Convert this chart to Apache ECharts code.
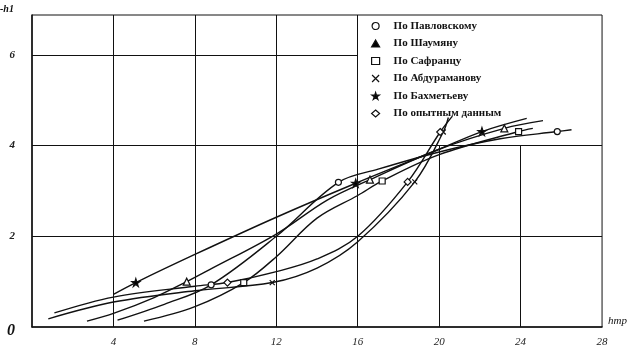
<!DOCTYPE html>
<html><head><meta charset="utf-8">
<script src="https://cdn.jsdelivr.net/npm/echarts@6/dist/echarts.min.js"></script>
<style>html,body{margin:0;padding:0;background:#fff}#c{width:630px;height:348px}</style>
</head><body><div id="c"></div>
<script>
// ---- data ----
const seriesNames = ['По Павловскому','По Шаумяну','По Сафранцу','По Абдураманову','По Бахметьеву','По опытным данным'];
const xTicks = [0,4,8,12,16,20,24,28];
const yTicks = [0,2,4,6];
const fullGridX = [4,8,12,16];
const shortGridX = [20,24];      // drawn from 0 up to y = 4
const fullGridY = [2,4];
const shortGridY = [6];          // drawn from x = 0 to x = 16

const pavlovskyCurve = [[4.2,0.15],[6.5,0.5],[8.8,0.93],[12,2.0],[15.05,3.19],[17,3.48],[20,3.86],[23,4.15],[25.8,4.31],[26.5,4.35]];
const pavlovskyMarks = [[8.8,0.93],[15.05,3.19],[25.8,4.31]];
const shaumyanCurve = [[2.7,0.13],[4,0.3],[6,0.65],[7.6,1.0],[8.7,1.26],[12,2.05],[14.5,2.8],[16.6,3.25],[20,3.92],[23.2,4.38],[25.1,4.55]];
const shaumyanMarks = [[7.6,1.0],[16.6,3.25],[23.2,4.38]];
const safrantsCurve = [[5.5,0.13],[8,0.45],[10.4,0.98],[12,1.55],[14,2.4],[16,2.9],[17.2,3.22],[20,3.8],[23.9,4.31],[24.6,4.38]];
const safrantsMarks = [[10.4,0.98],[17.2,3.22],[23.9,4.31]];
const abduramanovCurve = [[0.8,0.18],[4,0.55],[8,0.8],[11.8,0.98],[14,1.3],[16,1.88],[18.8,3.2],[20.2,4.3],[20.45,4.62]];
const abduramanovMarks = [[11.8,0.98],[18.8,3.2],[20.2,4.3]];
const bakhmetevCurve = [[4.0,0.72],[5.1,0.98],[8,1.6],[12,2.42],[15.9,3.17],[20,3.92],[22.1,4.31],[24.3,4.6]];
const bakhmetevMarks = [[5.1,0.98],[15.9,3.17],[22.1,4.31]];
const experimentCurve = [[1.1,0.31],[4,0.66],[8,0.9],[9.6,0.98],[12,1.22],[14,1.5],[16,2.0],[18.45,3.2],[20.05,4.3],[20.65,4.65]];
const experimentMarks = [[9.6,0.98],[18.45,3.2],[20.05,4.3]];

// ---- chart ----
const X_MAX = 28, Y_MAX = 6.88;
const starPath = 'path://M5,0L6.2,3.6L10,3.6L6.9,5.8L8.1,9.5L5,7.2L1.9,9.5L3.1,5.8L0,3.6L3.8,3.6Z';
const crossPath = 'path://M0,0L10,10M10,0L0,10';
const curves = [pavlovskyCurve, shaumyanCurve, safrantsCurve, abduramanovCurve, bakhmetevCurve, experimentCurve];
const marks = [pavlovskyMarks, shaumyanMarks, safrantsMarks, abduramanovMarks, bakhmetevMarks, experimentMarks];
const symbols = ['circle','triangle','rect',crossPath,starPath,'diamond'];
const sizes = [6,7,6,5,8,7];
const fills = ['#fff','#fff','#fff','#000','#000','#fff'];
const legendFills = ['#fff','#000','#fff','#000','#000','#fff'];

const gridLines = [];
fullGridX.forEach(v => gridLines.push([{coord:[v,0]},{coord:[v,Y_MAX]}]));
shortGridX.forEach(v => gridLines.push([{coord:[v,0]},{coord:[v,4]}]));
fullGridY.forEach(v => gridLines.push([{coord:[0,v]},{coord:[X_MAX,v]}]));
shortGridY.forEach(v => gridLines.push([{coord:[0,v]},{coord:[16,v]}]));

const series = [{
  name:'grid', type:'line', data:[], silent:true,
  markLine:{silent:true, symbol:['none','none'], label:{show:false},
    lineStyle:{color:'#111', type:'solid', width:1}, animation:false, data:gridLines}
}];
seriesNames.forEach((n,i) => {
  series.push({name:n, type:'line', data:curves[i], smooth:0.35, symbol:'none',
    lineStyle:{color:'#111', width:1.4}, itemStyle:{color:'#111'}, z:3});
  series.push({name:n, type:'scatter', data:marks[i], symbol:symbols[i], symbolSize:sizes[i],
    itemStyle:{color:fills[i], borderColor:'#111', borderWidth:1.2, opacity:1}, z:4});
});

const chart = echarts.init(document.getElementById('c'));
chart.setOption({
  animation:false,
  backgroundColor:'#fff',
  grid:{left:32, right:27, top:15, bottom:21, show:true, borderColor:'#111', borderWidth:1, backgroundColor:'transparent'},
  legend:{
    orient:'vertical', left:366, top:15, itemWidth:8, itemHeight:7, itemGap:5.5,
    selectedMode:false,
    textStyle:{fontFamily:'Liberation Serif', fontWeight:'bold', fontSize:11, lineHeight:12, color:'#111', padding:[0,0,0,9]},
    data: seriesNames.map((n,i) => ({name:n, icon:symbols[i],
      itemStyle:{color:legendFills[i], borderColor:'#111', borderWidth:1.2}}))
  },
  xAxis:{type:'value', min:0, max:X_MAX, interval:4,
    name:'hтр', nameLocation:'end', nameGap:6,
    nameTextStyle:{fontFamily:'Liberation Serif', fontStyle:'italic', fontSize:11, color:'#111', verticalAlign:'bottom', padding:[0,0,0,0]},
    axisLine:{lineStyle:{color:'#111', width:1.5}}, axisTick:{show:false}, splitLine:{show:false},
    axisLabel:{margin:10, fontFamily:'Liberation Serif', fontStyle:'italic', fontSize:11, color:'#222',
      formatter: v => (xTicks.indexOf(v) > 0 ? String(v) : '')}
  },
  yAxis:{type:'value', min:0, max:Y_MAX, interval:2,
    axisLine:{show:true, lineStyle:{color:'#111', width:1.5}}, axisTick:{show:false}, splitLine:{show:false},
    axisLabel:{margin:17, fontFamily:'Liberation Serif', fontStyle:'italic', fontWeight:'bold', fontSize:11, color:'#222',
      showMaxLabel:false,
      formatter: v => (v === 0 ? '{big|0}' : (yTicks.indexOf(v) >= 0 ? String(v) : '')),
      rich:{big:{fontFamily:'Liberation Serif', fontStyle:'italic', fontSize:16, color:'#111', padding:[7,0,0,0]}}}
  },
  graphic:[{type:'text', left:0, top:4, style:{text:'-h1', font:'italic bold 10px "Liberation Serif"', fill:'#111'}}],
  series: series
});
</script>
</body></html>
